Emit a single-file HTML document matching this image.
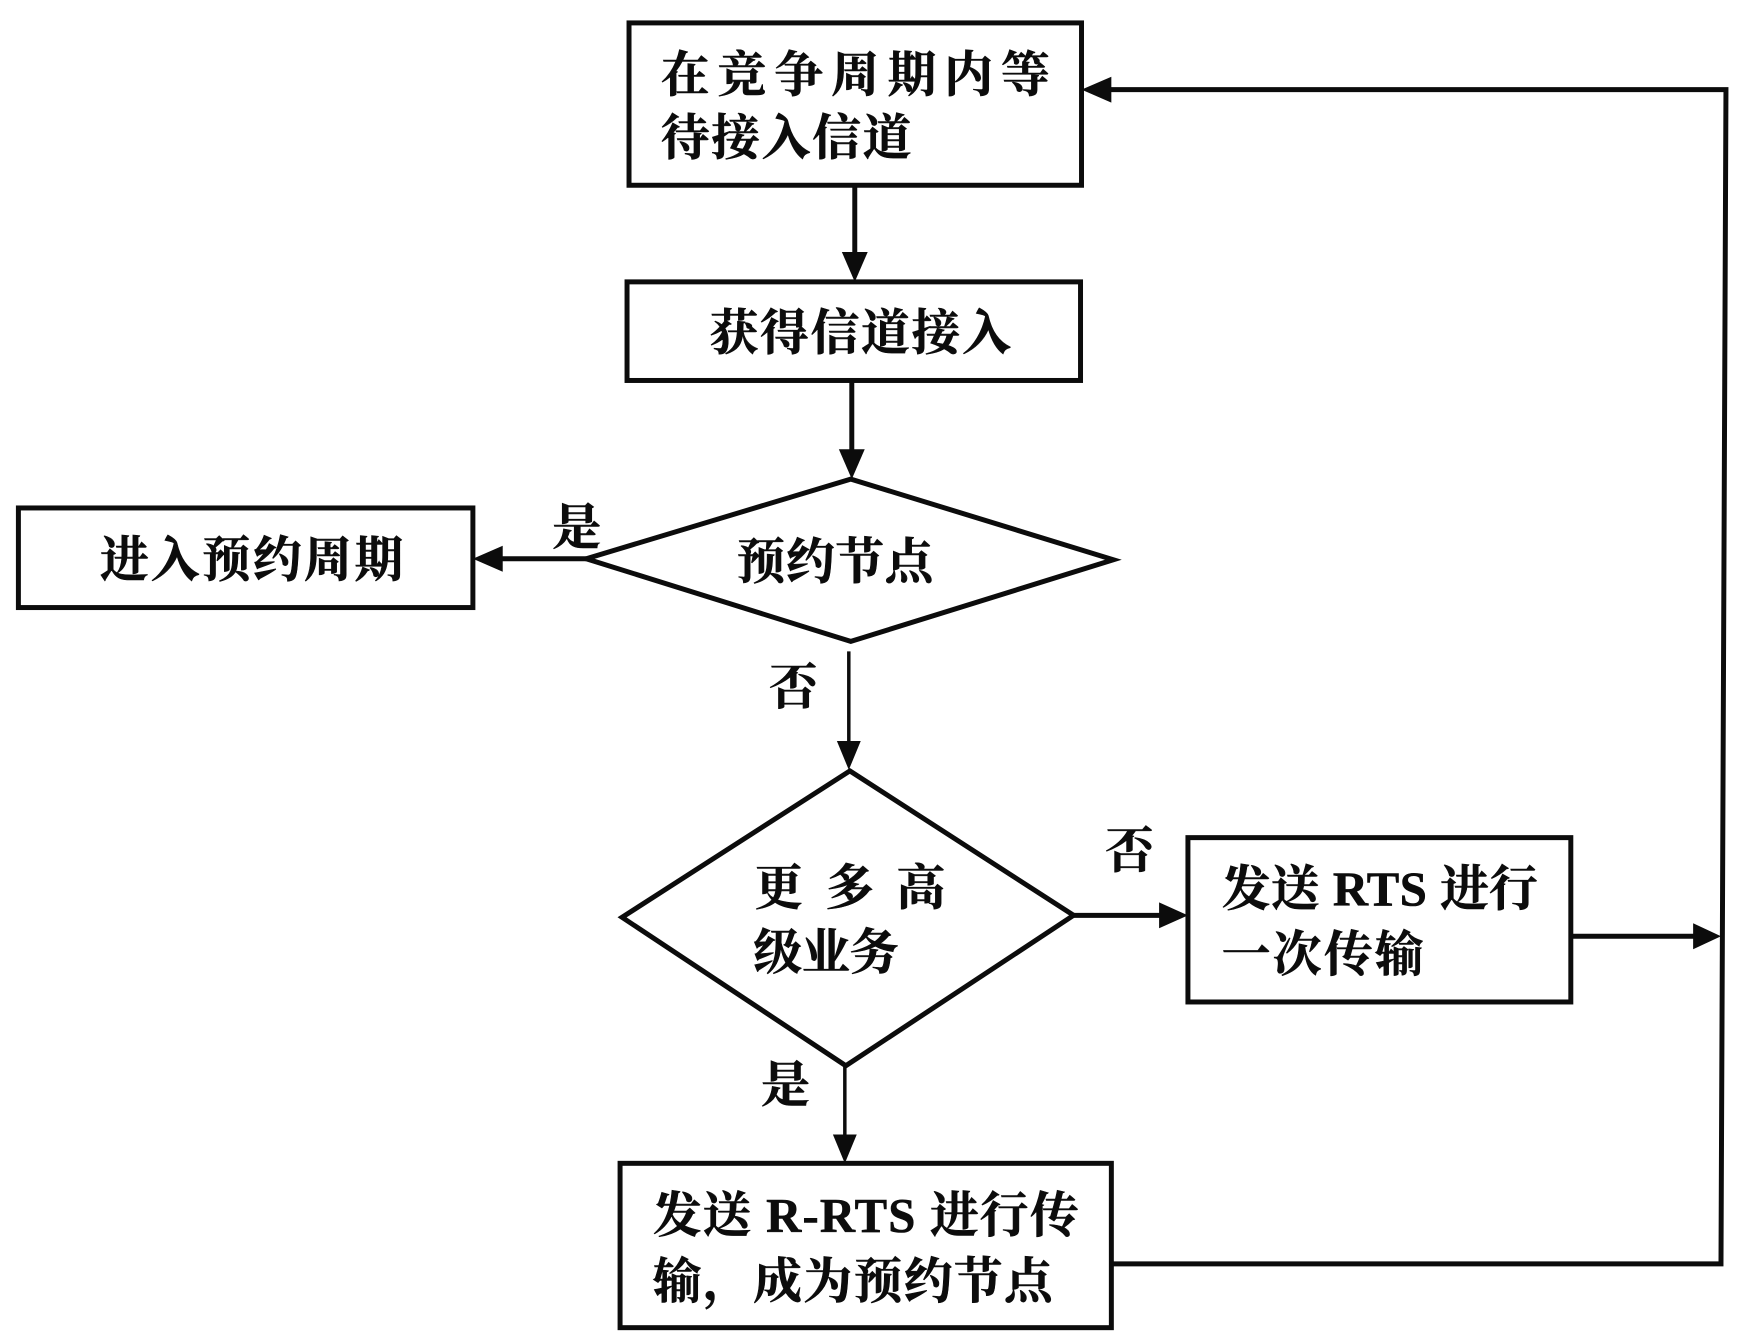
<!DOCTYPE html>
<html><head><meta charset="utf-8"><style>
html,body{margin:0;padding:0;background:#fff}
svg{display:block}
text{font-family:"Liberation Serif","Noto Serif CJK SC",serif;font-weight:700;font-size:49px;fill:#0c0c0c;stroke:#0c0c0c;stroke-width:.6px}
</style></head><body>
<svg width="1744" height="1333" viewBox="0 0 1744 1333" xmlns="http://www.w3.org/2000/svg">
<rect width="1744" height="1333" fill="#fff"/>
<g transform="translate(.5,0) scale(.9945,.996)">
<g fill="#fff" stroke="#0c0c0c" stroke-width="5">
<rect x="632" y="23" width="455" height="163"/>
<rect x="630" y="283" width="456" height="99"/>
<rect x="18" y="510" width="457" height="100"/>
<polygon points="589,561 855,481 1119,562 855,644"/>
<polygon points="854,774 1079,919 850,1070 625,921"/>
<rect x="1194" y="841" width="385" height="165"/>
<rect x="623" y="1168" width="494" height="165"/>
</g>
<g fill="none" stroke="#0c0c0c" stroke-width="5">
<path d="M859 186V262"/>
<path d="M856 382V460"/>
<path d="M589 561H495"/>
<path d="M1079 919H1172"/>
<path d="M1579 940H1708"/>
<path d="M1117 1269H1730L1735 90H1110"/>
</g>
<g fill="none" stroke="#0c0c0c" stroke-width="3.5">
<path d="M853 654V752"/>
<path d="M849 1070V1148"/>
</g>
<g fill="#0c0c0c">
<polygon points="846,253 872,253 859,283"/>
<polygon points="843,451 869,451 856,481"/>
<polygon points="505,548 505,574 475,561"/>
<polygon points="841,744 865,744 853,773"/>
<polygon points="1165,906 1165,932 1194,919"/>
<polygon points="1702,927 1702,953 1730,940"/>
<polygon points="837,1139 861,1139 849,1168"/>
<polygon points="1117,77 1117,103 1087,90"/>
</g>
<text x="664" y="92" textLength="391" lengthAdjust="spacing">在竞争周期内等</text>
<text x="664" y="155" textLength="252" lengthAdjust="spacing">待接入信道</text>
<text x="713" y="351" textLength="303" lengthAdjust="spacing">获得信道接入</text>
<text x="100" y="579" textLength="305" lengthAdjust="spacing">进入预约周期</text>
<text x="740" y="581" textLength="198" lengthAdjust="spacing">预约节点</text>
<text x="758" y="908" textLength="192" lengthAdjust="spacing">更 多 高</text>
<text x="757" y="973" textLength="146" lengthAdjust="spacing">级业务</text>
<text x="1228" y="909" textLength="318" lengthAdjust="spacing">发送 RTS 进行</text>
<text x="1228" y="975" textLength="203" lengthAdjust="spacing">一次传输</text>
<text x="656" y="1237" textLength="428" lengthAdjust="spacing">发送 R-RTS 进行传</text>
<text x="656" y="1303" textLength="402" lengthAdjust="spacing">输，成为预约节点</text>
<text x="555" y="546">是</text>
<text x="773" y="707">否</text>
<text x="1111" y="871">否</text>
<text x="765" y="1106">是</text>
</g>
</svg>
</body></html>
